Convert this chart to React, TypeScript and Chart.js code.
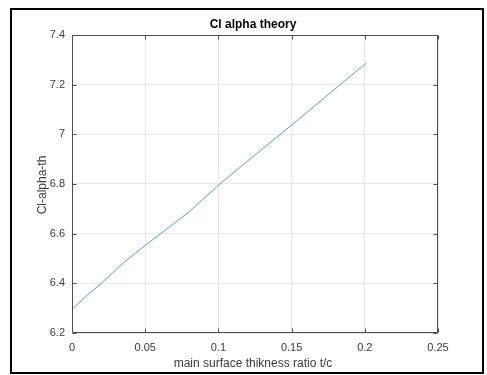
import React, { useEffect, useRef } from "react";
import { Chart, registerables } from "chart.js";

Chart.register(...registerables);

const TITLE = "Cl alpha theory";
const X_LABEL = "main surface thikness ratio t/c";
const Y_LABEL = "Cl-alpha-th";

const thicknessRatio = [0, 0.01, 0.02, 0.035, 0.05, 0.065, 0.08, 0.1, 0.125, 0.15, 0.175, 0.201];
const clAlphaTh = [6.295, 6.35, 6.4, 6.482, 6.553, 6.62, 6.688, 6.795, 6.917, 7.037, 7.16, 7.287];

const xTickLabels = ["0", "0.05", "0.1", "0.15", "0.2", "0.25"];
const yTickLabels = ["6.2", "6.4", "6.6", "6.8", "7", "7.2", "7.4"];

const FONT = "'Liberation Sans', Arial, Helvetica, sans-serif";
const AXIS_COLOR = "#4d4d4d";
const TEXT_COLOR = "#3a3a3a";
const GRID_COLOR = "#e8e8e8";
const LINE_COLOR = "#4f9fdc";

const matlabFrame = {
  id: "matlabFrame",
  afterDraw(chart: any) {
    const { ctx, chartArea: a, scales } = chart;
    ctx.save();
    // outer figure frame
    ctx.strokeStyle = "#000";
    ctx.lineWidth = 2;
    ctx.strokeRect(11, 9, 472, 364);

    // axes box
    ctx.strokeStyle = AXIS_COLOR;
    ctx.lineWidth = 1;
    const l = Math.round(a.left) + 0.5;
    const r = Math.round(a.right) - 0.5;
    const t = Math.round(a.top) + 0.5;
    const b = Math.round(a.bottom) - 0.5;
    ctx.beginPath();
    ctx.rect(l, t, r - l, b - t);
    // inward ticks
    const tl = 4;
    scales.x.ticks.forEach((tk: any) => {
      const px = Math.round(scales.x.getPixelForValue(tk.value)) + 0.5;
      ctx.moveTo(px, b);
      ctx.lineTo(px, b - tl);
      ctx.moveTo(px, t);
      ctx.lineTo(px, t + tl);
    });
    scales.y.ticks.forEach((tk: any) => {
      const py = Math.round(scales.y.getPixelForValue(tk.value)) + 0.5;
      ctx.moveTo(l, py);
      ctx.lineTo(l + tl, py);
      ctx.moveTo(r, py);
      ctx.lineTo(r - tl, py);
    });
    ctx.stroke();

    // titles
    ctx.fillStyle = "#000";
    ctx.font = `bold 12px ${FONT}`;
    ctx.textAlign = "center";
    ctx.textBaseline = "middle";
    ctx.fillText(TITLE, 253, 25);

    ctx.fillStyle = TEXT_COLOR;
    ctx.font = `12px ${FONT}`;
    ctx.fillText(X_LABEL, 253, 364);

    ctx.translate(42.5, 185);
    ctx.rotate(-Math.PI / 2);
    ctx.fillText(Y_LABEL, 0, 0);
    ctx.restore();
  },
};

export default function App() {
  const ref = useRef<HTMLCanvasElement>(null);

  useEffect(() => {
    if (!ref.current) return;
    const data = thicknessRatio.map((x, i) => ({ x, y: clAlphaTh[i] }));
    const chart = new Chart(ref.current, {
      type: "line",
      data: {
        datasets: [
          {
            data,
            borderColor: LINE_COLOR,
            borderWidth: 1,
            pointRadius: 0,
            tension: 0,
            fill: false,
          },
        ],
      },
      options: {
        responsive: false,
        animation: false,
        layout: { padding: { left: 0, top: 35, right: 49, bottom: 0 } },
        plugins: { legend: { display: false }, tooltip: { enabled: false }, title: { display: false } },
        scales: {
          x: {
            type: "linear",
            min: 0,
            max: 0.25,
            border: { display: false },
            grid: { color: GRID_COLOR, drawTicks: false },
            ticks: {
              stepSize: 0.05,
              padding: 8,
              color: TEXT_COLOR,
              font: { family: FONT, size: 11 },
              maxRotation: 0,
              callback: (_v: any, i: number) => xTickLabels[i],
            },
            afterFit: (s: any) => {
              s.height = 42;
            },
          },
          y: {
            type: "linear",
            min: 6.2,
            max: 7.4,
            border: { display: false },
            grid: { color: GRID_COLOR, drawTicks: false },
            ticks: {
              stepSize: 0.2,
              padding: 7,
              color: TEXT_COLOR,
              font: { family: FONT, size: 11 },
              callback: (_v: any, i: number) => yTickLabels[i],
            },
            afterFit: (s: any) => {
              s.width = 72;
            },
          },
        },
      },
      plugins: [matlabFrame],
    });
    return () => chart.destroy();
  }, []);

  return (
    <canvas
      ref={ref}
      width={487}
      height={375}
      style={{ position: "absolute", left: 0, top: 0, width: 487, height: 375, background: "#fff" }}
    />
  );
}
